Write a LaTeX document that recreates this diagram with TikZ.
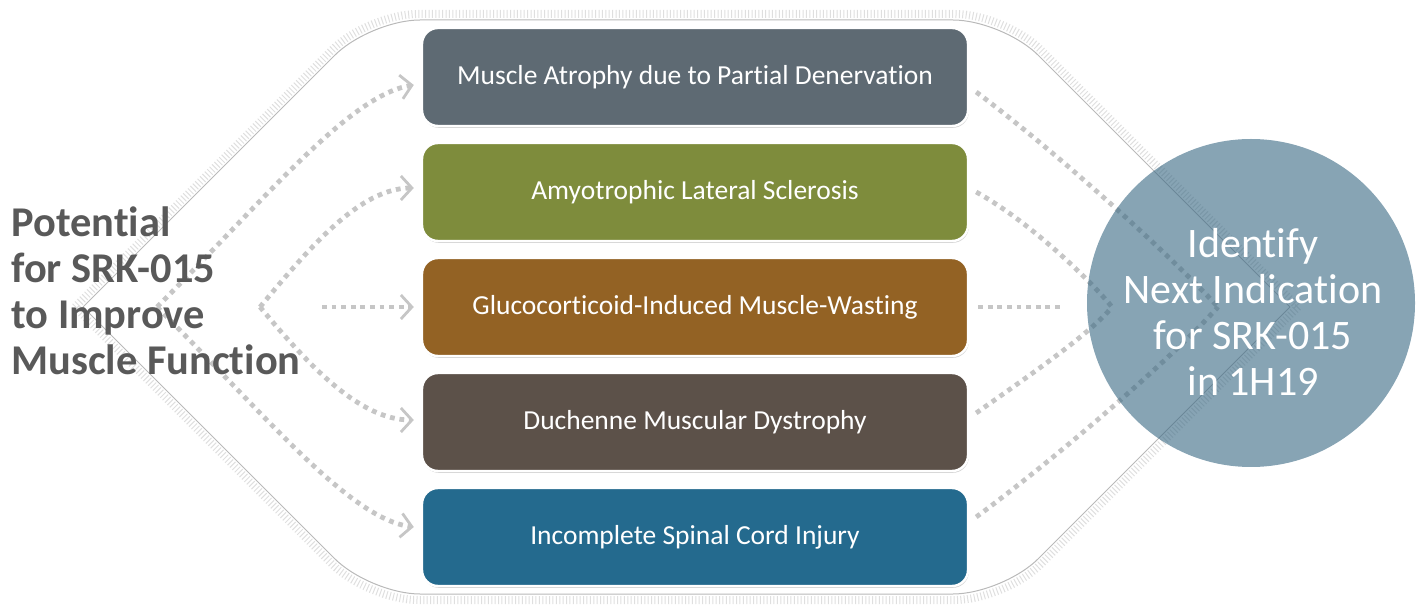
\documentclass[tikz,border=0pt]{standalone}
\usepackage{fontspec}
\setmainfont{Carlito}[Ligatures=NoCommon]
\usetikzlibrary{arrows.meta,shadows,calc}
\definecolor{titlegray}{HTML}{595959}
\definecolor{cone}{HTML}{5E6A73}
\definecolor{ctwo}{HTML}{7E8C3C}
\definecolor{cthree}{HTML}{936224}
\definecolor{cfour}{HTML}{5C5149}
\definecolor{cfive}{HTML}{246A8E}
\definecolor{circfill}{RGB}{55,103,130}
\definecolor{dotgray}{HTML}{C6C6C6}
\begin{document}
\begin{tikzpicture}[x=0.5pt,y=-0.5pt,
  box/.style={draw=white, line width=1.2pt, rounded corners=8pt,
    minimum width=273pt, minimum height=49pt, inner sep=0pt, text=white,
    font=\fontsize{13.75pt}{16pt}\selectfont,
    drop shadow={shadow xshift=0.4pt, shadow yshift=-0.9pt, opacity=0.35}},
  conn/.style={draw=dotgray, line width=2.4pt, dash pattern=on 2.4pt off 2.4pt},
  tipped/.style={-{Straight Barb[length=5.5pt,width=12pt,line width=1.4pt]}},
  outline/.style={draw=gray!55, line width=0.5pt, rounded corners=25pt},
  stipple/.style={draw=gray!25, line width=4pt, dash pattern=on 0.5pt off 1.2pt, rounded corners=25pt},
  circ/.style={circle, minimum size=164pt, inner sep=0pt, fill=circfill, fill opacity=0.6},
  circtext/.style={align=center, inner sep=0pt, text=white, font=\fontsize{21pt}{23pt}\selectfont},
  titletext/.style={align=left, inner sep=0pt, text=titlegray, font=\fontsize{21.2pt}{23pt}\selectfont\bfseries}
]
\useasboundingbox (0,0) rectangle (1423,608);

% outline hexagon
\coordinate (L) at (83,307);
\coordinate (TL) at (370,20);
\coordinate (TR) at (1003,20);
\coordinate (R) at (1290,307);
\coordinate (BR) at (1003,594);
\coordinate (BL) at (370,594);
\coordinate (L2) at (75,307);
\coordinate (TL2) at (368,14);
\coordinate (TR2) at (1005,14);
\coordinate (R2) at (1298,307);
\coordinate (BR2) at (1005,600);
\coordinate (BL2) at (368,600);
\draw[stipple] (L2) -- (TL2) -- (TR2) -- (R2);
\draw[stipple] (R2) -- (BR2) -- (BL2) -- (L2);
\draw[outline] (L) -- (TL) -- (TR) -- (R);
\draw[outline] (R) -- (BR) -- (BL) -- (L);

% boxes
\node[box, fill=cone] (b1) at (695,77) {Muscle Atrophy due to Partial Denervation};
\node[box, fill=ctwo] (b2) at (695,192) {Amyotrophic Lateral Sclerosis};
\node[box, fill=cthree] (b3) at (695,307) {Glucocorticoid-Induced Muscle-Wasting};
\node[box, fill=cfour] (b4) at (695,422) {Duchenne Muscular Dystrophy};
\node[box, fill=cfive] (b5) at (695,537) {Incomplete Spinal Cord Injury};

% left connectors
\coordinate (sA) at (157,307);
\coordinate (sB) at (260,307);
\coordinate (sC) at (322,307);
\draw[conn,tipped] (sA) .. controls (267,197) and (350,95) .. ($(b1.west)+(-7,8)$);
\draw[conn,tipped] (sB) .. controls (310,247) and (360,188) .. ($(b2.west)+(-7,-4)$);
\draw[conn,tipped] (sC) -- ($(b3.west)+(-7,0)$);
\draw[conn,tipped] (sB) .. controls (310,367) and (360,420) .. ($(b4.west)+(-7,-2)$);
\draw[conn,tipped] (sA) .. controls (267,417) and (350,519) .. ($(b5.west)+(-7,-10)$);

% right connectors
\coordinate (rA) at (1218,307);
\coordinate (rB) at (1112,307);
\coordinate (rC) at (1060,307);
\draw[conn] ($(b1.east)+(7,15)$) .. controls (1060,155) and (1170,255) .. (rA);
\draw[conn] ($(b2.east)+(7,0)$) .. controls (1030,222) and (1090,280) .. (rB);
\draw[conn] ($(b3.east)+(9,0)$) -- (rC);
\draw[conn] ($(b4.east)+(7,-9)$) .. controls (1030,375) and (1090,334) .. (rB);
\draw[conn] ($(b5.east)+(7,-20)$) .. controls (1060,455) and (1170,360) .. (rA);

% circle
\node[circ] (circ) at (1251,303) {};
\node[circtext] (ct) at (1253,312) {Identify\\Next Indication\\for SRK-015\\in 1H19};

% title
\node[titletext, anchor=west] (title) at (11,291) {Potential\\for SRK-015\\to Improve\\Muscle Function};
\end{tikzpicture}
\end{document}
